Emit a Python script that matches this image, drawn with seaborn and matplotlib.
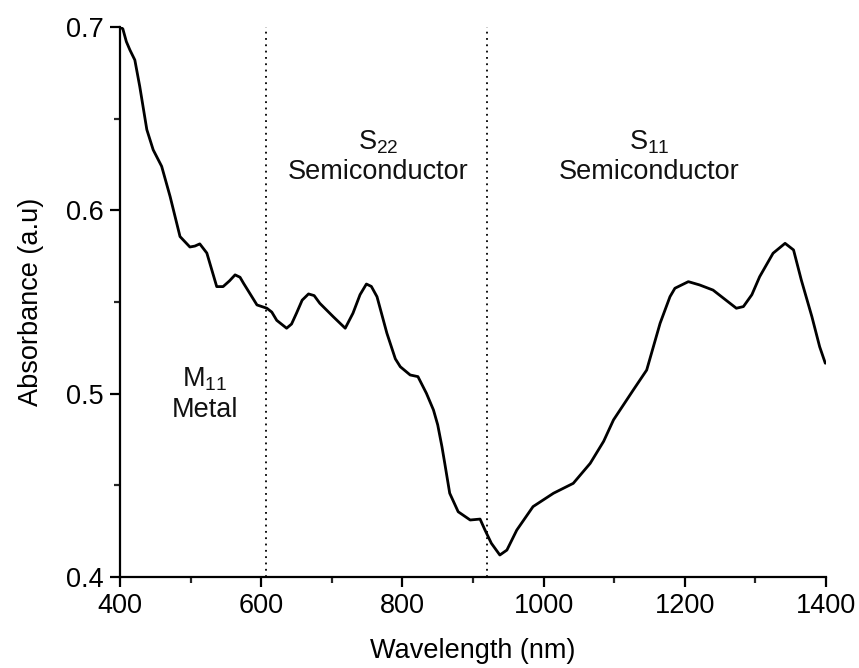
import matplotlib
matplotlib.use("Agg")
import matplotlib.pyplot as plt
import seaborn as sns
import pandas as pd
from matplotlib.ticker import MultipleLocator

wavelength = [400, 404, 409, 414, 421, 428, 438, 447, 459, 471, 485, 499, 506, 513, 523, 537,
              546, 555, 563, 570, 575, 594, 608, 615, 622, 636, 643, 650, 658, 667, 675, 683,
              702, 719, 730, 740, 749, 756, 764, 778, 790, 797, 811, 822, 834, 844, 850, 856,
              860, 867, 879, 896, 910, 917, 926, 938, 948, 962, 985, 1014, 1042, 1066, 1085,
              1099, 1127, 1146, 1165, 1179, 1186, 1205, 1221, 1240, 1255, 1273, 1283, 1295,
              1306, 1325, 1342, 1354, 1365, 1380, 1391, 1399]
absorbance = [0.700, 0.699, 0.692, 0.6875, 0.682, 0.6675, 0.644, 0.633, 0.624, 0.6075,
              0.5857, 0.580, 0.5805, 0.5817, 0.5767, 0.5584, 0.5584, 0.5615, 0.5648, 0.5635,
              0.5602, 0.5484, 0.5466, 0.5445, 0.540, 0.5357, 0.538, 0.5439, 0.551, 0.5544,
              0.5535, 0.5493, 0.542, 0.5357, 0.5439, 0.5540, 0.5598, 0.5585, 0.5529, 0.533,
              0.5190, 0.5147, 0.5102, 0.5093, 0.5002, 0.4911, 0.4830, 0.4711, 0.462, 0.4457,
              0.4356, 0.4311, 0.4316, 0.4256, 0.4184, 0.412, 0.4147, 0.4256, 0.4384, 0.4457,
              0.4511, 0.462, 0.4740, 0.4857, 0.502, 0.5129, 0.5384, 0.5529, 0.5575, 0.5611,
              0.5593, 0.5565, 0.552, 0.5466, 0.5475, 0.5540, 0.5638, 0.5766, 0.582, 0.5784,
              0.562, 0.542, 0.5256, 0.5166]

boundaries = [607, 920]
region_labels = [
    (520, 0.508, r"$\mathregular{M_{11}}$"),
    (520, 0.491, "Metal"),
    (766, 0.637, r"$\mathregular{S_{22}}$"),
    (766, 0.621, "Semiconductor"),
    (1150, 0.637, r"$\mathregular{S_{11}}$"),
    (1150, 0.621, "Semiconductor"),
]
x_ticks = [400, 600, 800, 1000, 1200, 1400]
y_ticks = [0.4, 0.5, 0.6, 0.7]

sns.set_theme(style="ticks")
plt.rcParams['font.family'] = ['Liberation Sans', 'DejaVu Sans']
plt.rcParams['mathtext.fontset'] = 'custom'
plt.rcParams['mathtext.rm'] = 'Liberation Sans'

fig = plt.figure(figsize=(8.59, 6.68), dpi=100)
ax = fig.add_axes([0.1397, 0.1362, 0.9616 - 0.1397, 0.9596 - 0.1362])

df = pd.DataFrame({"Wavelength": wavelength, "Absorbance": absorbance})
sns.lineplot(data=df, x="Wavelength", y="Absorbance", ax=ax, color="black",
             linewidth=2.0, estimator=None, sort=False)

for b in boundaries:
    ax.axvline(b, color="black", linestyle=(0, (1, 2.5)), linewidth=1.3)

for x, y, t in region_labels:
    ax.text(x, y, t, ha="center", va="center", fontsize=19.5, color="#111111")

ax.set_xlim(400, 1400)
ax.set_ylim(0.4, 0.7)
ax.set_xticks(x_ticks)
ax.set_yticks(y_ticks)
ax.set_yticklabels([f"{v:.1f}" for v in y_ticks])
ax.xaxis.set_minor_locator(MultipleLocator(100))
ax.yaxis.set_minor_locator(MultipleLocator(0.05))
ax.tick_params(which="major", direction="out", length=7.5, width=1.6, labelsize=19.5,
               colors="black", pad=4)
ax.tick_params(which="minor", direction="out", length=4.5, width=1.6)
ax.set_xlabel("Wavelength (nm)", fontsize=19.5, labelpad=14, color="black")
ax.set_ylabel("Absorbance (a.u)", fontsize=19.5, labelpad=16, color="black")

sns.despine(ax=ax)
for s in ["left", "bottom"]:
    ax.spines[s].set_linewidth(1.6)
    ax.spines[s].set_color("black")

fig.savefig("out.png", dpi=100, facecolor="white")
